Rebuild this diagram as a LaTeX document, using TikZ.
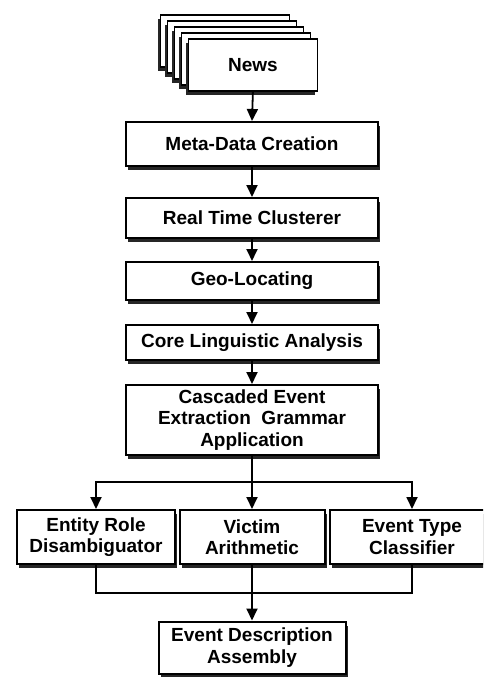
\documentclass[tikz,border=0pt]{standalone}
\usepackage{fontspec}
\setmainfont{Liberation Sans}
\usetikzlibrary{arrows.meta,shadows}
\begin{document}
\begin{tikzpicture}[x=1pt,y=1pt,
  box/.style={draw=black, line width=2pt, fill=white, align=center, inner sep=2pt,
    font=\fontsize{19}{21.5}\selectfont\bfseries,
    drop shadow={shadow xshift=2pt, shadow yshift=-4pt, fill=black!85, opacity=1}},
  layer/.style={draw=black, line width=1.8pt, fill=white, minimum width=129pt, minimum height=52pt,
    anchor=north west, inner sep=0pt, font=\fontsize{19}{21}\selectfont\bfseries,
    drop shadow={shadow xshift=-2pt, shadow yshift=-4pt, fill=black!85, opacity=1}},
  link/.style={line width=1.8pt},
  arr/.style={link, -{Triangle[width=11pt,length=12pt]}}]
\useasboundingbox (0,0) rectangle (483,-677);
\clip (0,0) rectangle (483,-677);
\fill[white] (0,0) rectangle (483,-677);
% news stack
\node[layer] (l1) at (159.5,-14) {};
\node[layer] (l2) at (166.5,-20) {};
\node[layer] (l3) at (173.5,-26) {};
\node[layer] (l4) at (180.5,-32) {};
\node[layer] (news) at (187.5,-38) {News};
% pipeline
\node[box, minimum width=252pt, minimum height=44pt] (meta) at (252,-144) {Meta-Data Creation};
\node[box, minimum width=252pt, minimum height=40pt] (rtc) at (252,-218) {Real Time Clusterer};
\node[box, minimum width=252pt, minimum height=38pt] (geo) at (252,-281) {Geo-Locating};
\node[box, minimum width=252pt, minimum height=35pt] (core) at (252,-342.5) {Core Linguistic Analysis};
\node[box, minimum width=252pt, minimum height=70pt] (casc) at (252,-420) {Cascaded Event\\Extraction~~Grammar\\Application};
\node[box, minimum width=158pt, minimum height=54pt] (ent) at (96,-537) {Entity Role\\Disambiguator};
\node[box, minimum width=145pt, minimum height=54pt] (vic) at (252,-537) {Victim\\Arithmetic};
\node[box, minimum width=164pt, minimum height=54pt] (evt) at (412,-537) {Event Type\\Classifier};
\node[box, minimum width=187pt, minimum height=52pt] (desc) at (252,-647.5) {Event Description\\Assembly};
% connectors
\draw[arr] (news.south) -- (meta.north);
\draw[arr] (meta) -- (rtc);
\draw[arr] (rtc) -- (geo);
\draw[arr] (geo) -- (core);
\draw[arr] (core) -- (casc);
\coordinate (br) at (252,-482);
\coordinate (mg) at (252,-593);
\draw[link] (casc.south) -- (br);
\draw[arr] (br) -- (vic.north);
\draw[arr] (br) -| (ent.north);
\draw[arr] (br) -| (evt.north);
\draw[link] (ent.south) |- (mg) -| (evt.south);
\draw[arr] (vic.south) -- (desc.north);
\end{tikzpicture}
\end{document}
